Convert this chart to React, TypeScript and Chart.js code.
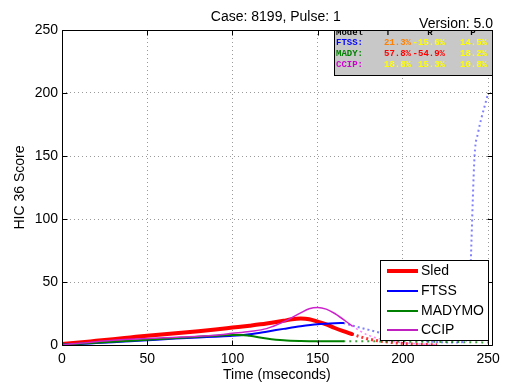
import React, { useEffect, useRef } from "react";
import { Chart, registerables } from "chart.js";

Chart.register(...registerables);

const chartTitle = "Case: 8199, Pulse: 1";
const versionText = "Version: 5.0";
const xTitle = "Time (mseconds)";
const yTitle = "HIC 36 Score";
const xTicks = [0, 50, 100, 150, 200, 250];
const yTicks = [0, 50, 100, 150, 200, 250];

const sledTime = [0, 10, 20, 30, 40, 50, 60, 70, 80, 90, 100, 110, 120, 130, 135, 140, 145, 150, 155, 160, 165, 170];
const sledValues = [0.8, 2, 3.3, 4.6, 6, 7.4, 8.6, 9.8, 11, 12.3, 13.8, 15.3, 17, 19.2, 20.5, 21, 20.5, 18.5, 16.3, 13.5, 11, 8.7];
const sledTailTime = [170, 175, 180, 190, 200, 210, 220];
const sledTailValues = [8.7, 6.5, 4.7, 2.5, 1.2, 0.5, 0.2];

const ftssTime = [0, 10, 20, 30, 40, 50, 60, 70, 80, 90, 100, 110, 120, 130, 140, 150, 160, 165];
const ftssValues = [0.3, 0.8, 1.5, 2.2, 3, 3.8, 4.6, 5.3, 6, 6.6, 7.3, 8.6, 10.6, 12.8, 14.9, 16.5, 17.2, 17.5];
const ftssTailTime = [165, 170, 180, 190, 200, 210, 220, 230, 236, 238, 239, 240, 242, 244, 246, 248, 250];
const ftssTailValues = [17.5, 15.5, 12, 8.5, 5.5, 3.5, 2.3, 2, 2.5, 8, 30, 75, 150, 168, 180, 190, 200];

const madyTime = [0, 10, 20, 30, 40, 50, 60, 70, 80, 90, 100, 105, 110, 120, 130, 140, 150, 160, 165];
const madyValues = [0.3, 1, 1.8, 2.6, 3.4, 4.2, 5, 5.8, 6.6, 7.4, 8, 8, 7.3, 5.2, 3.7, 3.1, 2.9, 2.9, 2.9];
const madyTailTime = [165, 180, 200, 220, 240, 250];
const madyTailValues = [2.9, 2.9, 2.7, 2.5, 2.2, 2];

const ccipTime = [0, 10, 20, 30, 40, 50, 60, 70, 80, 90, 100, 110, 120, 130, 140, 145, 150, 155, 160, 170];
const ccipValues = [0.3, 1.3, 2.6, 3.8, 4.6, 5.2, 5.8, 6.3, 6.9, 7.8, 9.3, 10.8, 13, 18.3, 25.5, 28.8, 29.8, 28.5, 25, 15.3];
const ccipTailTime = [170, 175, 180, 190, 200, 210, 220];
const ccipTailValues = [15.3, 11, 7.5, 3.8, 1.8, 0.8, 0.3];

const legendLabels = ["Sled", "FTSS", "MADYMO", "CCIP"];
const legendColors = ["#ff0000", "#0000ff", "#008000", "#c020c0"];
const legendWidths = [4, 2, 2, 2];

const tableHeader = ["Model", "T", "R", "P"];
const tableModels = ["FTSS:", "MADY:", "CCIP:"];
const tableModelColors = ["#0000ff", "#008000", "#cc00cc"];
const tableT = ["21.3%", "57.8%", "18.8%"];
const tableR = ["-15.6%", "-54.9%", "15.3%"];
const tableP = ["14.5%", "18.2%", "10.8%"];
const tableTColors = ["#ff8000", "#ff0000", "#ffff00"];
const tableRColors = ["#ffff00", "#ff0000", "#ffff00"];
const tablePColors = ["#ffff00", "#ffff00", "#ffff00"];

const FONT = "'Liberation Sans', Arial, Helvetica, sans-serif";
const MONO = "'Liberation Mono', 'Courier New', monospace";

const pts = (t: number[], v: number[]) => t.map((x, i) => ({ x, y: v[i] }));

const line = (data: { x: number; y: number }[], color: string, width: number, dash?: number[]) => ({
  data,
  borderColor: color,
  backgroundColor: color,
  borderWidth: width,
  borderDash: dash || [],
  pointRadius: 0,
  fill: false,
  cubicInterpolationMode: "monotone" as const,
  borderCapStyle: dash ? ("butt" as const) : ("round" as const),
});

const overlay = {
  id: "overlay",
  beforeDraw(chart: any) {
    const { ctx } = chart;
    ctx.save();
    ctx.fillStyle = "#ffffff";
    ctx.fillRect(0, 0, chart.width, chart.height);
    ctx.restore();
  },
  afterDraw(chart: any) {
    const { ctx, chartArea: a, scales } = chart;
    ctx.save();
    // frame
    ctx.strokeStyle = "#000";
    ctx.lineWidth = 1;
    ctx.setLineDash([]);
    const L = Math.round(a.left) + 0.5;
    const R = Math.round(a.right) + 0.5;
    const T = Math.round(a.top) + 0.5;
    const B = Math.round(a.bottom) + 0.5;
    ctx.beginPath();
    ctx.moveTo(L, T);
    ctx.lineTo(R, T);
    ctx.lineTo(R, B);
    ctx.lineTo(L, B);
    ctx.closePath();
    ctx.stroke();
    // inward ticks
    ctx.beginPath();
    xTicks.forEach((v) => {
      const px = Math.round(scales.x.getPixelForValue(v)) + 0.5;
      ctx.moveTo(px, B);
      ctx.lineTo(px, B - 5);
      ctx.moveTo(px, T);
      ctx.lineTo(px, T + 5);
    });
    yTicks.forEach((v) => {
      const py = Math.round(scales.y.getPixelForValue(v)) + 0.5;
      ctx.moveTo(L, py);
      ctx.lineTo(L + 5, py);
      ctx.moveTo(R, py);
      ctx.lineTo(R - 5, py);
    });
    ctx.stroke();

    // title and version
    ctx.fillStyle = "#000";
    ctx.font = `14px ${FONT}`;
    ctx.textBaseline = "alphabetic";
    ctx.textAlign = "center";
    ctx.fillText(chartTitle, (a.left + a.right) / 2 - 1, 20.5);
    ctx.textAlign = "right";
    ctx.fillText(versionText, 493, 28);

    // stats table
    const tx = 334.5, ty = 30.5, tw = 158, th = 45;
    ctx.fillStyle = "#c8c8c8";
    ctx.fillRect(tx, ty, tw, th);
    ctx.font = `bold 9px ${MONO}`;
    ctx.textBaseline = "middle";
    ctx.save();
    ctx.beginPath();
    ctx.rect(tx, ty, tw, th);
    ctx.clip();
    ctx.fillStyle = "#000";
    ctx.textAlign = "left";
    ctx.fillText(tableHeader[0], 336, 33);
    ctx.textAlign = "center";
    ctx.fillText(tableHeader[1], 388, 33);
    ctx.fillText(tableHeader[2], 430, 33);
    ctx.fillText(tableHeader[3], 473, 33);
    ctx.restore();
    const rowY = [43, 53.5, 64.5];
    tableModels.forEach((m, i) => {
      ctx.textAlign = "left";
      ctx.fillStyle = tableModelColors[i];
      ctx.fillText(m, 336, rowY[i]);
      ctx.textAlign = "right";
      ctx.fillStyle = tableTColors[i];
      ctx.fillText(tableT[i], 411, rowY[i]);
      ctx.fillStyle = tableRColors[i];
      ctx.fillText(tableR[i], 445, rowY[i]);
      ctx.fillStyle = tablePColors[i];
      ctx.fillText(tableP[i], 487, rowY[i]);
    });
    ctx.strokeStyle = "#000";
    ctx.lineWidth = 1;
    ctx.strokeRect(tx, ty, tw, th);

    // legend
    const lx = 380.5, ly = 260.5, lw = 108, lh = 80;
    ctx.fillStyle = "#fff";
    ctx.fillRect(lx, ly, lw, lh);
    ctx.strokeStyle = "#000";
    ctx.strokeRect(lx, ly, lw, lh);
    const legY = [271, 291, 311, 330];
    ctx.font = `14px ${FONT}`;
    ctx.textAlign = "left";
    ctx.textBaseline = "middle";
    legendLabels.forEach((lab, i) => {
      ctx.strokeStyle = legendColors[i];
      ctx.lineWidth = legendWidths[i];
      ctx.beginPath();
      ctx.moveTo(387, legY[i]);
      ctx.lineTo(418, legY[i]);
      ctx.stroke();
      ctx.fillStyle = "#000";
      ctx.fillText(lab, 421, legY[i] + 0.5);
    });
    ctx.restore();
  },
};

export default function App() {
  const ref = useRef<HTMLCanvasElement>(null);
  useEffect(() => {
    const tickFont = { family: FONT, size: 14 };
    const chart = new Chart(ref.current as HTMLCanvasElement, {
      type: "line",
      data: {
        datasets: [
          line(pts(ccipTime, ccipValues), "#cc22cc", 1.5),
          line(pts(madyTime, madyValues), "#008000", 2),
          line(pts(ftssTime, ftssValues), "#0000ff", 2),
          line(pts(sledTime, sledValues), "#ff0000", 4),
          line(pts(ccipTailTime, ccipTailValues), "rgba(255,0,255,0.5)", 1.5, [2, 3]),
          line(pts(madyTailTime, madyTailValues), "rgba(0,128,0,0.75)", 2, [2, 4]),
          line(pts(ftssTailTime, ftssTailValues), "rgba(0,0,255,0.5)", 2, [2, 3]),
          line(pts(sledTailTime, sledTailValues), "rgba(255,0,0,0.8)", 3, [2, 3]),
        ] as any,
      },
      options: {
        responsive: false,
        animation: false,
        devicePixelRatio: 1,
        events: [],
        layout: { padding: { left: 0, top: 30, right: 14, bottom: 0 } },
        plugins: { legend: { display: false }, title: { display: false }, tooltip: { enabled: false } },
        scales: {
          x: {
            type: "linear",
            min: 0,
            max: 252,
            afterBuildTicks: (s: any) => {
              s.ticks = xTicks.map((v) => ({ value: v }));
            },
            afterFit: (s: any) => {
              s.height = 45;
            },
            ticks: {
              font: tickFont,
              color: "#000",
              padding: 6,
              includeBounds: false,
              maxRotation: 0,
              autoSkip: false,
              callback: (v: any) => String(v),
            },
            grid: { color: "#9a9a9a", lineWidth: 1, drawTicks: false },
            border: { display: false, dash: [1, 3] },
            title: { display: true, text: xTitle, font: tickFont, color: "#000", padding: { top: 0, bottom: 6 } },
          },
          y: {
            type: "linear",
            min: 0,
            max: 250,
            afterBuildTicks: (s: any) => {
              s.ticks = yTicks.map((v) => ({ value: v }));
            },
            afterFit: (s: any) => {
              s.width = 62;
            },
            ticks: {
              font: tickFont,
              color: "#000",
              padding: 4,
              autoSkip: false,
              callback: (v: any) => String(v),
            },
            grid: { color: "#9a9a9a", lineWidth: 1, drawTicks: false },
            border: { display: false, dash: [1, 3] },
            title: { display: true, text: yTitle, font: tickFont, color: "#000", padding: { top: 12, bottom: 0 } },
          },
        },
      } as any,
      plugins: [overlay],
    });
    return () => chart.destroy();
  }, []);
  return (
    <div style={{ position: "fixed", left: 0, top: 0, width: 506, height: 390, background: "#fff" }}>
      <canvas ref={ref} width={506} height={390} style={{ display: "block", width: 506, height: 390 }} />
    </div>
  );
}
